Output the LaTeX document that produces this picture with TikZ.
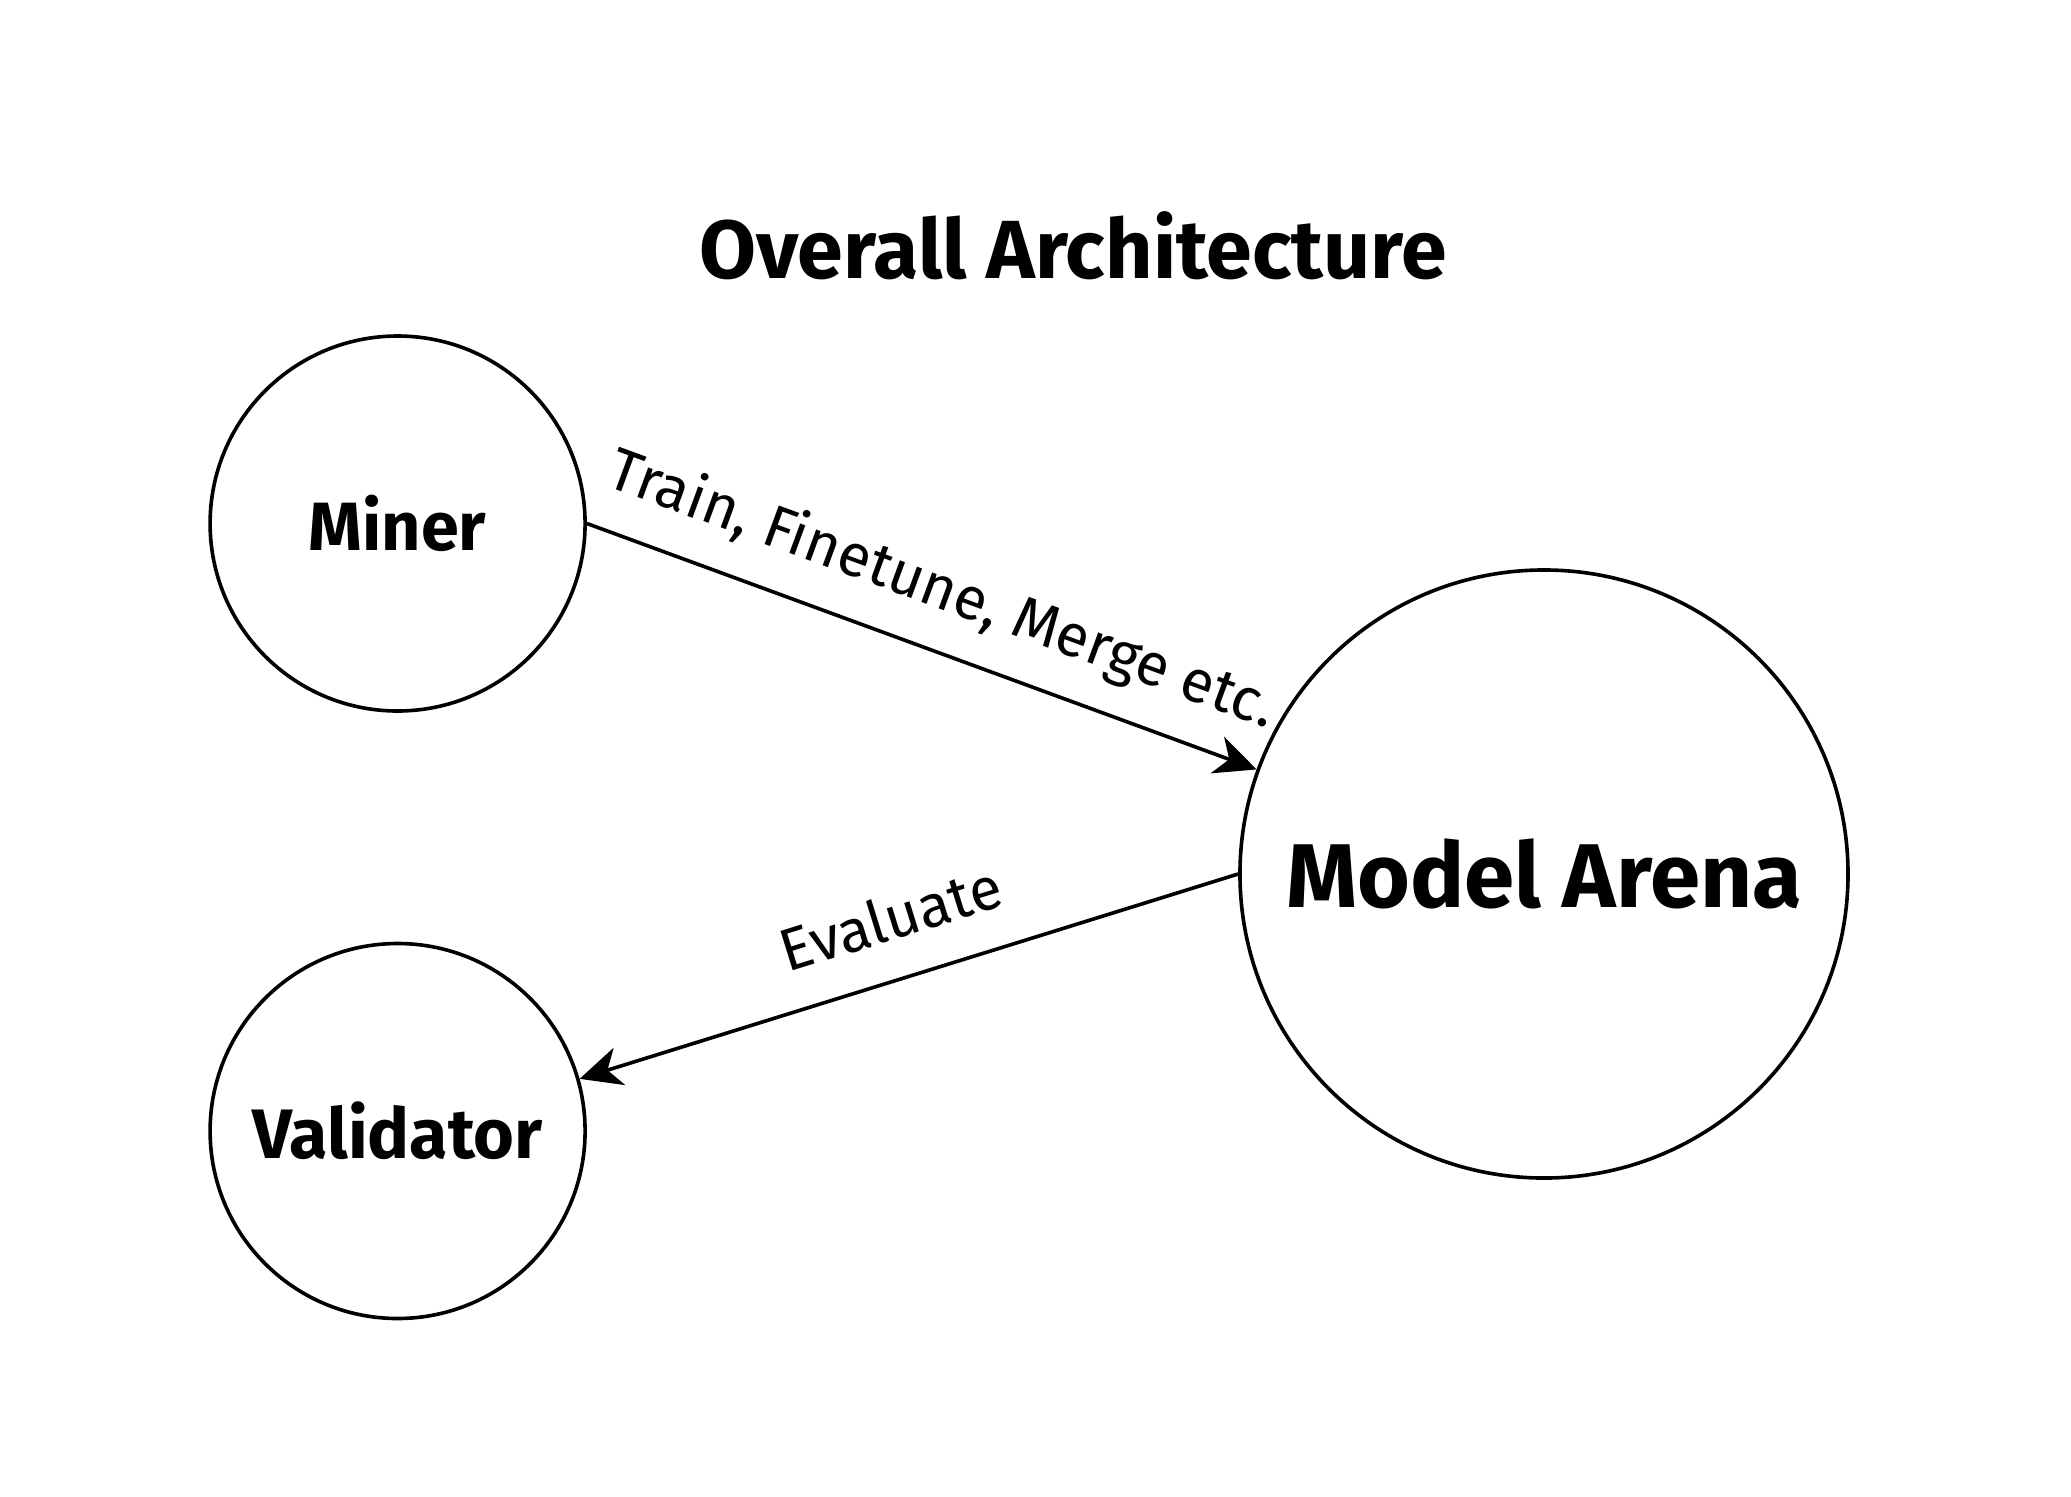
\documentclass[tikz,border=0pt]{standalone}
\usepackage{fontspec}
\setmainfont{Fira Sans}
\usetikzlibrary{arrows.meta}
\begin{document}
\begin{tikzpicture}[x=0.36pt,y=-0.36pt,
  bubble/.style={circle,draw,line width=1.3pt,inner sep=0pt},
  conn/.style={line width=1.3pt,-{Stealth[length=15pt,width=14pt,inset=4.5pt]}},
  elabel/.style={sloped,inner sep=0pt,font=\fontsize{21.5}{26}\selectfont}]
\fill[white] (0,0) rectangle (2071,1497);
\useasboundingbox (0,0) rectangle (2071,1497);
\node[font=\fontsize{29.7}{34}\selectfont\bfseries] (title) at (1073,246) {Overall Architecture};
\node[bubble,minimum size=135pt,font=\fontsize{24.6}{30}\selectfont\bfseries] (miner) at (397.6,523.5) {Miner};
\node[bubble,minimum size=135pt,font=\fontsize{25.2}{30}\selectfont\bfseries] (validator) at (397.6,1131) {Validator};
\node[bubble,minimum size=218.9pt,font=\fontsize{32.6}{40}\selectfont\bfseries] (arena) at (1544,874) {Model Arena};
\draw[conn] (miner.east) -- node[elabel,above=9.8pt,pos=0.5] {Train, Finetune, Merge etc.} (arena.160);
\draw[conn] (arena.west) -- node[elabel,above=13.3pt,pos=0.5] {Evaluate} (validator.16);
\end{tikzpicture}
\end{document}
